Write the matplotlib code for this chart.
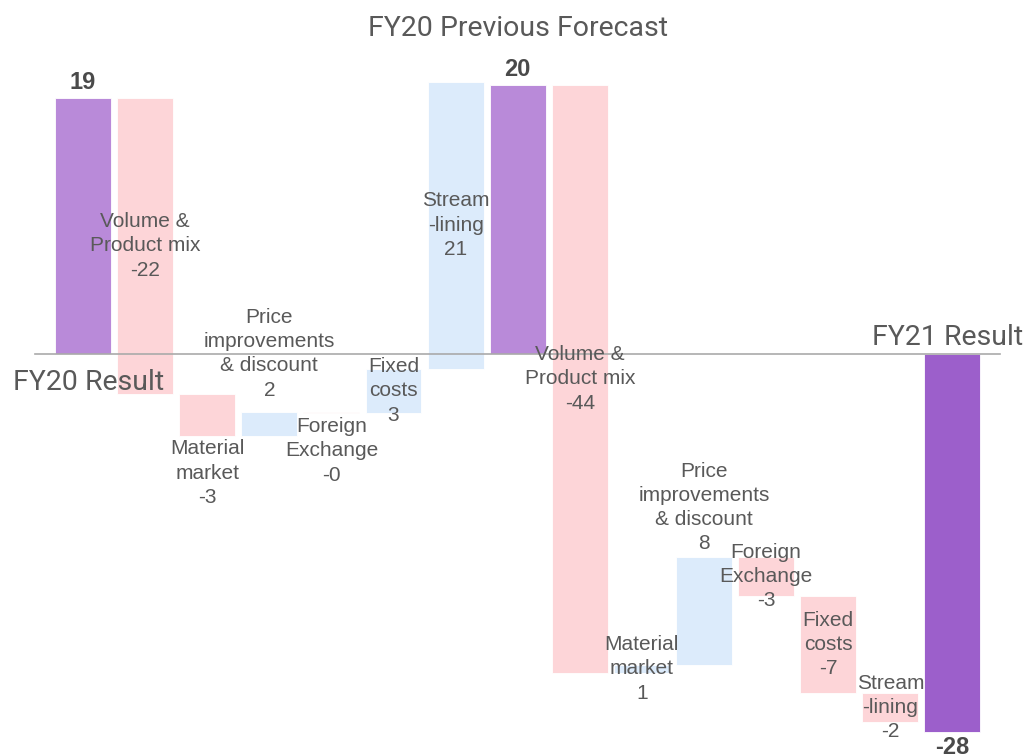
import matplotlib.pyplot as plt

# categories (labels drawn on the chart)
categories = ["FY20 Result", "Volume &\nProduct mix", "Material\nmarket",
              "Price\nimprovements\n& discount", "Foreign\nExchange", "Fixed\ncosts",
              "Stream\n-lining", "FY20 Previous Forecast", "Volume &\nProduct mix",
              "Material\nmarket", "Price\nimprovements\n& discount", "Foreign\nExchange",
              "Fixed\ncosts", "Stream\n-lining", "FY21 Result"]
values = [19.0, -21.9, -3.15, 1.8, -0.1, 3.3, 21.3, 20.0,
          -43.6, 0.55, 8.0, -2.85, -7.2, -2.2, -28.0]
is_total = [True, False, False, False, False, False, False, True,
            False, False, False, False, False, False, True]

# where each delta label sits: c = inside bar, a = above, b = below
label_mode = ['t', 'c', 'b', 'a', 'b', 'c', 'c', 't', 'c', 'c', 'a', 'c', 'c', 'c', 't']
label_gap = [0, 0, 0.25, 0.9, 0.3, 0, 0, 0, 0, 0, 0.3, 0, 0, 0, 0]

PINK = '#fdd5d8'
BLUE = '#dcebfb'
PURPLE = '#b98ad9'
PURPLE_DARK = '#9c5fcb'
TXT = '#595959'

plt.rcParams['font.family'] = ['Liberation Sans', 'DejaVu Sans']
NARROW = ['Roboto', 'Liberation Sans', 'DejaVu Sans']

# waterfall positions
bottoms, heights, colors = [], [], []
running = 0.0
for v, tot in zip(values, is_total):
    if tot:
        bottoms.append(0.0)
        heights.append(v)
        colors.append(PURPLE if v >= 0 else PURPLE_DARK)
        running = v
    else:
        bottoms.append(running)
        heights.append(v)
        colors.append(BLUE if v > 0 else PINK)
        running += v

fig = plt.figure(figsize=(10.25, 7.54), dpi=100)
ax = fig.add_axes([0, 0, 1, 1])
ax.axis('off')
ax.set_xlim(-1.337, 15.169)
ax.set_ylim(-29.64, 26.3)

x = list(range(len(values)))
ax.bar(x, heights, bottom=bottoms, width=0.9, color=colors,
       edgecolor='white', linewidth=0.6, zorder=2)

# zero line
ax.plot([-0.77, 14.77], [0, 0], color='#aaaaaa', lw=1.2, zorder=4)

for i, (name, v) in enumerate(zip(categories, values)):
    lo = min(bottoms[i], bottoms[i] + heights[i])
    hi = max(bottoms[i], bottoms[i] + heights[i])
    if is_total[i]:
        num = f"{v:.0f}"
        if v >= 0:
            ax.text(i, hi + 0.3, num, ha='center', va='bottom', fontsize=17,
                    fontweight='bold', color='#4a4a4a', zorder=5)
        else:
            ax.text(i, lo - 0.3, num, ha='center', va='top', fontsize=17,
                    fontweight='bold', color='#4a4a4a', zorder=5)
        continue
    txt = f"{name}\n{v:.0f}"
    mode = label_mode[i]
    if mode == 'c':
        ax.text(i, (lo + hi) / 2, txt, ha='center', va='center', fontsize=15,
                color=TXT, linespacing=1.35, zorder=5)
    elif mode == 'a':
        ax.text(i, hi + label_gap[i], txt, ha='center', va='bottom', fontsize=15,
                color=TXT, linespacing=1.35, zorder=5)
    else:
        ax.text(i, lo - label_gap[i], txt, ha='center', va='top', fontsize=15,
                color=TXT, linespacing=1.35, zorder=5)

# names of the total bars
ax.text(0.09, -1.1, categories[0], ha='center', va='top', fontsize=20.5,
        family=NARROW, color=TXT, zorder=5)
ax.text(7, 23.6, categories[7], ha='center', va='baseline', fontsize=20.5,
        family=NARROW, color=TXT, zorder=5)
ax.text(13.93, 0.7, categories[14], ha='center', va='baseline', fontsize=20.5,
        family=NARROW, color=TXT, zorder=5)

fig.savefig('out.png', dpi=100)
